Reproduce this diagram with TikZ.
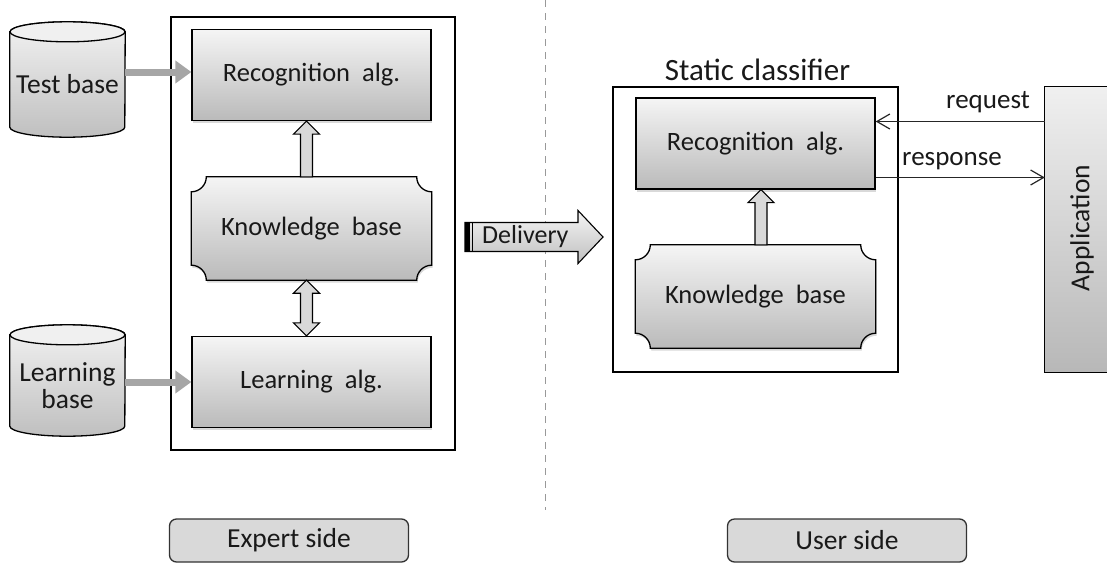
\documentclass[tikz,border=0pt]{standalone}
\usepackage{fontspec}
\setmainfont{Carlito}
\usetikzlibrary{arrows.meta,calc,shadows,backgrounds}

\newcommand\fs[1]{\fontsize{#1}{#1}\selectfont}

% knowledge-base outline: rectangle with concave quarter-circle corners
\newcommand\kbpath[1]{%
  \begin{pgfonlayer}{background}
  \path[kbfill] ($(#1.north west)+(15,0)$) -- ($(#1.north east)+(-15,0)$)
    arc[start angle=180,end angle=90,radius=15]
    -- ($(#1.south east)+(0,-15)$) arc[start angle=270,end angle=180,radius=15]
    -- ($(#1.south west)+(15,0)$) arc[start angle=360,end angle=270,radius=15]
    -- ($(#1.north west)+(0,15)$) arc[start angle=90,end angle=0,radius=15]
    -- cycle;
  \end{pgfonlayer}}

% database cylinder around a node (north = centre of the top ellipse)
\newcommand\cylpath[1]{%
  \begin{pgfonlayer}{background}
  \path[cylbody] (#1.north west) -- ($(#1.south west)+(0,-10)$)
    arc[start angle=180,end angle=0,x radius=57.5,y radius=10]
    -- (#1.north east) arc[start angle=0,end angle=-180,x radius=57.5,y radius=10]
    -- cycle;
  \path[cyltop] (#1.north) ellipse[x radius=57.5,y radius=10];
  \end{pgfonlayer}}

\begin{document}
\begin{tikzpicture}[x=1pt,y=-1pt,
  every node/.style={inner sep=0pt, text=black!90},
  frame/.style={draw=black, line width=1.1pt},
  softshadow/.style={drop shadow={shadow xshift=1pt,shadow yshift=-2.5pt,opacity=.3}},
  algbox/.style={draw=black, line width=1.3pt, top color=black!4, bottom color=black!27,
    minimum width=239pt, minimum height=91pt, font=\fs{26.5}, softshadow},
  kbnode/.style={minimum width=240pt, minimum height=103pt, font=\fs{26.5}},
  kbfill/.style={draw=black, line width=1.3pt, top color=black!4, bottom color=black!27, softshadow},
  cylnode/.style={minimum width=115pt, font=\fs{27.5}, align=center},
  cylbody/.style={draw=black, line width=1.3pt, top color=black!5, bottom color=black!25},
  cyltop/.style={draw=black, line width=1.3pt, fill=black!6},
  blk/.style={draw=black, line width=1.1pt, fill=black!15},
  graywire/.style={draw=black!35, line width=7pt, -{Triangle[length=16pt,width=22pt]}},
  msg/.style={draw=black!85, line width=1.2pt, -{Straight Barb[length=13pt,width=15pt,line width=1.2pt]}},
  sidebox/.style={draw=black!80, line width=1.3pt, rounded corners=7pt, fill=black!15,
    minimum width=239pt, minimum height=43pt, font=\fs{27.5}},
  sepline/.style={draw=black!40, line width=1pt, dash pattern=on 7pt off 6pt},
]
\useasboundingbox (0,0) rectangle (1107,565);

% side separator
\coordinate (sepA) at (545,0);
\coordinate (sepB) at (545,510);
\draw[sepline] (sepA) -- (sepB);

% frames
\node[frame, minimum width=284pt, minimum height=433pt] (lframe) at (313,233.5) {};
\node[frame, minimum width=285pt, minimum height=285pt] (rframe) at (755.5,229.5) {};
\node[anchor=base, font=\fs{31}] (sclass) at ($(rframe.north)+(2,-5.5)$) {Static classifier};

% expert side
\node[algbox] (recL) at (311.5,75) {Recognition~~alg.};
\node[kbnode] (kbL) at (311.5,228.5) {Knowledge~~base};
\kbpath{kbL}
\node[algbox] (learnL) at (311.5,382) {Learning~~alg.};

\node[cylnode, minimum height=105pt] (testbase) at (67.5,84.5) {Test base};
\cylpath{testbase}
\node[cylnode, minimum height=101pt, text depth=0pt] (learnbase) at (67.5,385.5)
  {\fontsize{27.5}{31}\selectfont Learning\\base};
\cylpath{learnbase}

\draw[graywire] (testbase.east |- 0,72) -- (recL.west |- 0,72);
\draw[graywire] (learnbase.east |- learnL.west) -- (learnL.west);

% knowledge base -> recognition
\draw[blk] let \p1=($(kbL.north)+(-5,0)$), \p2=($(recL.south)+(-5,0)$) in
  (\x1-6pt,\y1) -- (\x1-6pt,\y2-13pt) -- (\x1-13pt,\y2-13pt) -- (\x2,\y2)
  -- (\x1+13pt,\y2-13pt) -- (\x1+6pt,\y2-13pt) -- (\x1+6pt,\y1) -- cycle;
% knowledge base <-> learning
\draw[blk] let \p1=($(kbL.south)+(-5,0)$), \p2=($(learnL.north)+(-5,0)$) in
  (\x1,\y1) -- (\x1+13pt,\y1-13pt) -- (\x1+6pt,\y1-13pt) -- (\x1+6pt,\y2+13pt)
  -- (\x1+13pt,\y2+13pt) -- (\x2,\y2) -- (\x1-13pt,\y2+13pt) -- (\x1-6pt,\y2+13pt)
  -- (\x1-6pt,\y1-13pt) -- (\x1-13pt,\y1-13pt) -- cycle;

% delivery
\coordinate (dA) at (465,237);
\coordinate (dB) at (603,237);
\draw[draw=black, line width=1.1pt, top color=black!4, bottom color=black!25]
  let \p1=(dA), \p2=(dB) in
  (\x1,\y1+14.5pt) -- (\x2-25pt,\y1+14.5pt) -- (\x2-25pt,\y1+26.5pt) -- (\x2,\y1)
  -- (\x2-25pt,\y1-26.5pt) -- (\x2-25pt,\y1-14.5pt) -- (\x1,\y1-14.5pt) -- cycle;
\fill let \p1=(dA) in (\x1,\y1-14.5pt) rectangle (\x1+5pt,\y1+14.5pt);
\draw[line width=1.3pt] let \p1=(dA) in (\x1+7.5pt,\y1-14.5pt) -- (\x1+7.5pt,\y1+14.5pt);
\node[anchor=west, font=\fs{26}] (delivery) at ($(dA)+(17,0)$) {Delivery};

% user side
\node[algbox] (recR) at (755.5,143.5) {Recognition~~alg.};
\node[kbnode] (kbR) at (755.5,296.5) {Knowledge~~base};
\kbpath{kbR}
\draw[blk] let \p1=($(kbR.north)+(5.5,0)$), \p2=($(recR.south)+(5.5,0)$) in
  (\x1-6pt,\y1) -- (\x1-6pt,\y2-13pt) -- (\x1-13pt,\y2-13pt) -- (\x2,\y2)
  -- (\x1+13pt,\y2-13pt) -- (\x1+6pt,\y2-13pt) -- (\x1+6pt,\y1) -- cycle;

% application
\node[minimum width=65pt, minimum height=285pt, top color=black!6, bottom color=black!28] (app) at (1077.5,229.5) {};
\draw[line width=1.3pt] (app.north east) -- (app.north west) -- (app.south west) -- (app.south east);
\node[rotate=90, font=\fs{27.5}] (applabel) at ($(app.center)+(4.5,-1.5)$) {Application};

\draw[msg] (app.west |- 0,121.5) -- (recR.east |- 0,121.5);
\draw[msg] (recR.east |- 0,177.5) -- (app.west |- 0,177.5);
\node[anchor=base east, font=\fs{27}] (req) at (1030,108) {request};
\node[anchor=base west, font=\fs{27}] (resp) at (902,165) {response};

% side captions
\node[sidebox] (expert) at (289,540.5) {Expert side};
\node[sidebox] (user) at (847,540.5) {User side};
\end{tikzpicture}
\end{document}
